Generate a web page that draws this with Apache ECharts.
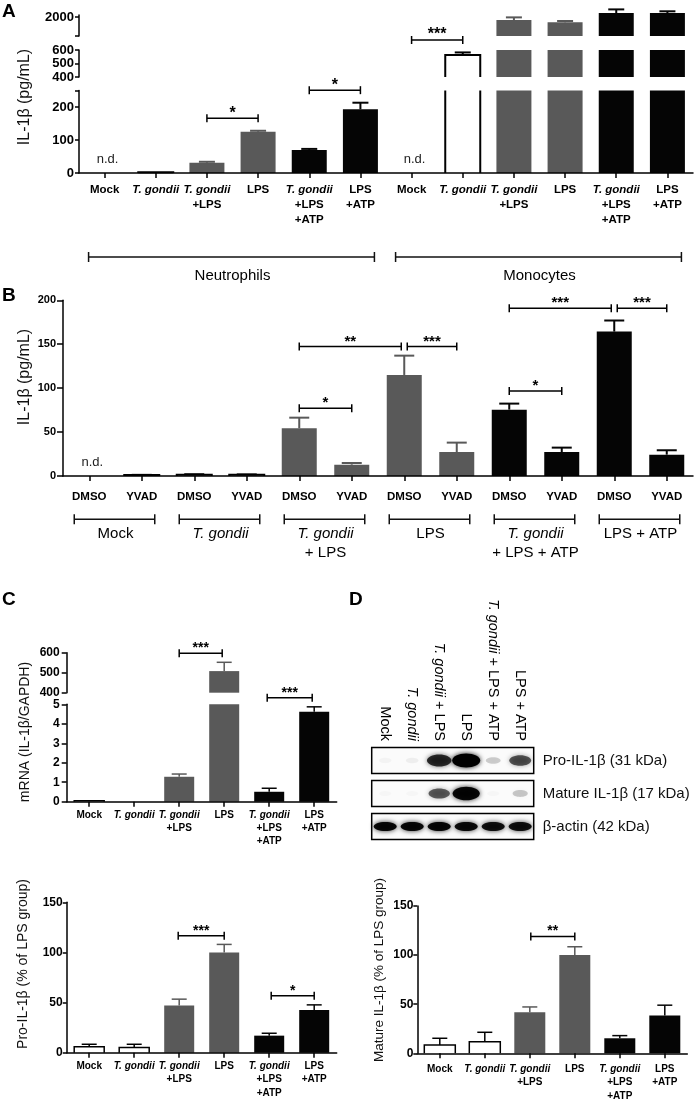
<!DOCTYPE html>
<html><head><meta charset="utf-8">
<script src="https://cdn.jsdelivr.net/npm/echarts@6/dist/echarts.min.js"></script>
<style>html,body{margin:0;padding:0;background:#fff}#c{width:699px;height:1100px}</style>
</head><body><div id="c"></div>
<script>
// ---------------- DATA ----------------
// Panel A
const catsA = ['Mock','T. gondii','T. gondii\n+LPS','LPS','T. gondii\n+LPS\n+ATP','LPS\n+ATP',
               'Mock','T. gondii','T. gondii\n+LPS','LPS','T. gondii\n+LPS\n+ATP','LPS\n+ATP'];
const valuesA = [0, 2, 31, 125, 70, 193, 0, 563, 1920, 1860, 2105, 2105];
const errorsA = [0, 0, 3, 3, 3, 20, 0, 19, 70, 35, 95, 45];
const fillA   = ['white','white','grey','grey','black','black','white','white','grey','grey','black','black'];
const groupsA = ['Neutrophils','Monocytes'];
const groupSpanA = [[0,5],[6,11]];
const ticksA_top = [1500, 2000], labelsA_top = [2000];
const ticksA_mid = [400, 500, 600], labelsA_mid = [400, 500, 600];
const ticksA_bot = [0, 100, 200, 250], labelsA_bot = [0, 100, 200];
const sigA_bot = [[2,3,166,'*',0,0],[4,5,251,'*',0,0]];
const sigA_mid = [[6,7,674,'***',0,0]];
const ndA = [0, 6];

// Panel B
const catsB = ['DMSO','YVAD','DMSO','YVAD','DMSO','YVAD','DMSO','YVAD','DMSO','YVAD','DMSO','YVAD'];
const valuesB = [0, 1, 1.5, 1.5, 54.3, 12.9, 115, 27.3, 75.5, 27.3, 164.4, 24.3];
const errorsB = [0, 0.3, 0.5, 0.3, 12.1, 1.9, 22, 10.7, 6.9, 5, 12.6, 5];
const fillB   = ['white','white','white','white','grey','grey','grey','grey','black','black','black','black'];
const groupsB = ['Mock','T. gondii','T. gondii\n+ LPS','LPS','T. gondii\n+ LPS + ATP','LPS + ATP'];
const groupSpanB = [[0,1],[2,3],[4,5],[6,7],[8,9],[10,11]];
const ticksB = [0, 50, 100, 150, 200];
const sigB = [[4,5,77,'*',0,0],[4,6,147.3,'**',0,-3],[6,7,147.3,'***',3,0],
              [8,9,96.8,'*',0,0],[8,10,191,'***',0,-3],[10,11,191,'***',3,0]];
const ndB = [0];

// Panel C (mRNA)
const catsC = ['Mock','T. gondii','T. gondii\n+LPS','LPS','T. gondii\n+LPS\n+ATP','LPS\n+ATP'];
const valuesC = [0.05, 0, 1.28, 508, 0.51, 4.62];
const errorsC = [0, 0, 0.14, 44, 0.18, 0.25];
const fillC   = ['white','white','grey','grey','black','black'];
const ticksC_top = [400, 500, 600];
const ticksC_bot = [0, 1, 2, 3, 4, 5];
const sigC_top = [[2,3,597,'***',0,-2]];
const sigC_bot = [[4,5,5.33,'***',-2,-2]];

// Pro-IL-1β densitometry
const valuesP = [6, 5.3, 47, 100, 17, 42.7];
const errorsP = [2.4, 3.1, 6.4, 8, 2.4, 5];
const sigP = [[2,3,116.6,'***',-1,0],[4,5,56.9,'*',2,0]];
// Mature IL-1β densitometry
const valuesM = [8.5, 11.8, 41.8, 100, 15.3, 38.4];
const errorsM = [6.8, 9.6, 5.4, 8.5, 2.7, 10.6];
const sigM = [[2,3,119,'**',1,0]];
const ticksPM = [0, 50, 100, 150];

// Western blot (D)
const lanesD = ['Mock','T. gondii','T. gondii + LPS','LPS','T. gondii + LPS + ATP','LPS + ATP'];
const rowsD = ['Pro-IL-1β (31 kDa)','Mature IL-1β (17 kDa)','β-actin (42 kDa)'];
const bandPro    = [0.03, 0.05, 0.78, 1.0, 0.18, 0.62];
const bandMature = [0.02, 0.02, 0.58, 0.95, 0.02, 0.2];
const bandActin  = [0.95, 0.95, 0.95, 0.93, 0.9, 0.9];

// ---------------- LAYOUT / STYLE ----------------
const FONT = '"Liberation Sans", Arial, Helvetica, sans-serif';
const COL = {white:'#ffffff', grey:'#595959', black:'#050505'};
const GRIDS = [
  [79, 15.1, 614, 20.9],     // 0 A top
  [79, 50, 614, 27],         // 1 A mid
  [79, 90.5, 614, 82.5],     // 2 A bottom
  [63, 300.3, 630, 175.7],   // 3 B
  [66.7, 652.7, 270, 40],    // 4 C top
  [66.7, 704.3, 270, 97.4],  // 5 C bottom
  [371.7, 744, 162, 99],     // 6 blot
  [66.7, 902.3, 270, 150.4], // 7 Pro
  [417.3, 906, 270, 147.3]   // 8 Mature
];

function richFmt(v){
  return v.split('\n').map(l => l.indexOf('T. gondii') >= 0 ? l.replace('T. gondii','{i|T. gondii}') : l).join('\n');
}
function line(x1,y1,x2,y2,c,w){ return {type:'line', shape:{x1,y1,x2,y2}, style:{stroke:c, lineWidth:w}}; }

function catAxis(gi, data, o){
  o = o || {};
  return {
    type:'category', gridIndex:gi, data:data, position:o.position || 'bottom', z:5, show: o.show !== false,
    offset:0,
    axisLine:{show: o.line !== false, lineStyle:{color:'#000', width:1.5}},
    axisTick:{show: o.tick !== false, alignWithLabel:true, length:5, lineStyle:{color:'#000', width:1.5}},
    axisLabel:{show: o.label !== false, interval:0, hideOverlap:false, margin:o.margin || 8, rotate:o.rotate || 0,
      color:'#000', fontFamily:FONT, fontSize:o.fs || 12, fontWeight:o.fw || 'bold', lineHeight:o.lh || 14,
      verticalAlign: o.rotate ? undefined : (o.position === 'top' ? 'bottom' : 'top'),
      formatter: richFmt,
      rich:{i:{fontStyle:'italic', fontWeight:o.fw || 'bold', fontSize:o.fs || 12, fontFamily:FONT, color:'#000', lineHeight:o.lh || 14}}},
    splitLine:{show:false}
  };
}
function valAxis(gi, min, max, ticks, labels, o){
  o = o || {};
  return {
    type:'value', gridIndex:gi, min:min, max:max, interval:o.interval, position:'left', z:5,
    axisLine:{show:true, lineStyle:{color:'#000', width:1.5}},
    axisTick:{show:true, length:o.tl || 5, customValues:ticks, lineStyle:{color:'#000', width:1.5}},
    axisLabel:{show:true, customValues:labels, margin:o.margin || 6, color:'#000', fontFamily:FONT,
      fontSize:o.fs || 12, fontWeight:'bold', formatter: v => String(v)},
    splitLine:{show:false}
  };
}

function barSeries(gi, seg, values, errors, fills, barW, capW, lw){
  return {
    type:'custom', xAxisIndex:gi, yAxisIndex:gi, silent:true, z:2, clip:false,
    encode:{x:0, y:1},
    data: values.map((v,i)=>[i, v, errors[i]]),
    renderItem(params, api){
      const i = api.value(0), v = api.value(1), e = api.value(2);
      const kind = fills[i];
      if (!(v > seg.min)) return null;
      const capped = !seg.overflow && v > seg.max;
      const hi = capped ? seg.max : v;
      const p0 = api.coord([i, seg.min]), p1 = api.coord([i, hi]);
      const cx = p0[0], x0 = cx - barW/2, x1 = cx + barW/2, yb = p0[1], yt = p1[1];
      const stroke = kind === 'white' ? '#000' : COL[kind];
      const ch = [{type:'rect', shape:{x:x0, y:yt, width:barW, height:yb-yt}, style:{fill:COL[kind]}}];
      if (kind === 'white'){
        if (!capped) ch.push({type:'polyline', shape:{points:[[x0,yb],[x0,yt],[x1,yt],[x1,yb]]}, style:{fill:'none', stroke:'#000', lineWidth:lw}});
        else { ch.push(line(x0,yb,x0,yt,'#000',lw)); ch.push(line(x1,yb,x1,yt,'#000',lw)); }
      }
      if (!capped && e > 0){
        const pe = api.coord([i, v+e]);
        ch.push(line(cx, yt, cx, pe[1], stroke, lw));
        ch.push(line(cx-capW/2, pe[1], cx+capW/2, pe[1], stroke, lw));
      }
      return {type:'group', children:ch};
    }
  };
}

function sigSeries(gi, list, fs){
  return {
    type:'custom', xAxisIndex:gi, yAxisIndex:gi, silent:true, z:3, clip:false,
    encode:{x:[0,1], y:2},
    data: list.map(d=>[d[0], d[1], d[2]]),
    renderItem(params, api){
      const d = list[params.dataIndex];
      const a = api.coord([d[0], d[2]]), b = api.coord([d[1], d[2]]);
      const x1 = a[0] + d[4], x2 = b[0] + d[5], y = a[1];
      return {type:'group', children:[
        line(x1,y,x2,y,'#000',1.5), line(x1,y-4,x1,y+4,'#000',1.5), line(x2,y-4,x2,y+4,'#000',1.5),
        {type:'text', style:{text:d[3], x:(x1+x2)/2, y:y-5, align:'center', verticalAlign:'middle',
          font:'bold ' + (fs||15) + 'px ' + FONT, fill:'#000'}}
      ]};
    }
  };
}

function groupBracketSeries(gi, spans, yOff, offL, offR){
  return {
    type:'custom', xAxisIndex:gi, yAxisIndex:gi, silent:true, z:3, clip:false,
    encode:{x:[0,1], y:2},
    data: spans.map(s=>[s[0], s[1], 0]),
    renderItem(params, api){
      const a = api.coord([api.value(0), 0]), b = api.coord([api.value(1), 0]);
      const y = a[1] + yOff, x1 = a[0] + offL, x2 = b[0] + offR;
      return {type:'group', children:[line(x1,y,x2,y,'#111',1.5), line(x1,y-5,x1,y+5,'#111',1.5), line(x2,y-5,x2,y+5,'#111',1.5)]};
    }
  };
}

function ndSeries(gi, idx){
  return {
    type:'custom', xAxisIndex:gi, yAxisIndex:gi, silent:true, z:3, clip:false,
    encode:{x:0, y:1},
    data: idx.map(i=>[i, 0]),
    renderItem(params, api){
      const p = api.coord([api.value(0), 0]);
      return {type:'text', style:{text:'n.d.', x:p[0]+3, y:p[1]-14, align:'center', verticalAlign:'middle', font:'13px ' + FONT, fill:'#222'}};
    }
  };
}

// blot
const bandRows = [bandPro, bandMature, bandActin];
const bandData = [];
bandRows.forEach((r,k)=>r.forEach((a,l)=>bandData.push([l, k, a])));

const segA0 = {min:1500, max:2050, overflow:true}, segA1 = {min:400, max:600}, segA2 = {min:0, max:250};

const option = {
  animation:false,
  backgroundColor:'#ffffff',
  textStyle:{fontFamily:FONT},
  grid: GRIDS.map(g=>({left:g[0], top:g[1], width:g[2], height:g[3], containLabel:false, outerBoundsMode:'none', show:false})),
  xAxis: [
    catAxis(0, catsA, {show:false}),
    catAxis(1, catsA, {show:false}),
    catAxis(2, catsA, {margin:9.5, lh:15, fs:11.5}),
    catAxis(3, catsB, {margin:14, lh:14, fs:11.5}),
    catAxis(4, catsC, {show:false}),
    catAxis(5, catsC, {margin:6.8, lh:13, fs:10}),
    catAxis(6, lanesD, {position:'top', line:false, tick:false, rotate:90, margin:3, fs:14.5, fw:'normal'}),
    catAxis(7, catsC, {margin:6.5, lh:13.5, fs:10}),
    catAxis(8, catsC, {margin:9, lh:13.5, fs:10}),
    catAxis(2, groupsA, {line:false, tick:false, margin:94, lh:18, fs:15, fw:'normal'}),
    catAxis(3, groupsB, {line:false, tick:false, margin:48.5, lh:19, fs:15, fw:'normal'})
  ],
  yAxis: [
    valAxis(0, 1500, 2050, ticksA_top, labelsA_top, {fs:13, margin:5, tl:4, interval:500}),
    valAxis(1, 400, 600, ticksA_mid, labelsA_mid, {fs:13, margin:5, tl:4, interval:100}),
    valAxis(2, 0, 250, ticksA_bot, labelsA_bot, {fs:13, margin:5, tl:4, interval:100}),
    valAxis(3, 0, 200, ticksB, ticksB, {fs:11, margin:7, tl:6, interval:50}),
    valAxis(4, 400, 600, ticksC_top, ticksC_top, {fs:12, margin:7, tl:5, interval:100}),
    valAxis(5, 0, 5, ticksC_bot, ticksC_bot, {fs:12, margin:7, tl:5, interval:1}),
    {type:'category', gridIndex:6, data:rowsD, inverse:true, position:'right',
      axisLine:{show:false}, axisTick:{show:false}, splitLine:{show:false},
      axisLabel:{margin:9, color:'#111', fontFamily:FONT, fontSize:15, align:'left'}},
    valAxis(7, 0, 150, ticksPM, ticksPM, {fs:12, margin:4, tl:4, interval:50}),
    valAxis(8, 0, 150, ticksPM, ticksPM, {fs:12, margin:4, tl:4, interval:50})
  ],
  series: [
    barSeries(0, segA0, valuesA, errorsA, fillA, 35, 16, 2),
    barSeries(1, segA1, valuesA, errorsA, fillA, 35, 16, 2),
    barSeries(2, segA2, valuesA, errorsA, fillA, 35, 16, 2),
    barSeries(3, {min:0, max:200}, valuesB, errorsB, fillB, 35, 20, 2),
    barSeries(4, {min:400, max:600}, valuesC, errorsC, fillC, 30, 15, 1.5),
    barSeries(5, {min:0, max:5}, valuesC, errorsC, fillC, 30, 15, 1.5),
    barSeries(7, {min:0, max:150}, valuesP, errorsP, fillC, 30, 15, 1.5),
    barSeries(8, {min:0, max:150}, valuesM, errorsM, fillC, 31, 15, 1.5),
    sigSeries(2, sigA_bot, 16), sigSeries(1, sigA_mid, 16), sigSeries(3, sigB, 15),
    sigSeries(4, sigC_top, 14), sigSeries(5, sigC_bot, 14), sigSeries(7, sigP, 14), sigSeries(8, sigM, 14),
    groupBracketSeries(2, groupSpanA, 84, -16, 14),
    groupBracketSeries(3, groupSpanB, 43.3, -15, 13),
    ndSeries(2, ndA), ndSeries(3, ndB),
    { // blot boxes
      type:'custom', xAxisIndex:6, yAxisIndex:6, silent:true, z:2, clip:false,
      encode:{x:0, y:1},
      data: rowsD.map((r,k)=>[0, k]),
      renderItem(params, api){
        const k = api.value(1);
        const p0 = api.coord([0,k]), p5 = api.coord([5,k]), s = api.size([1,1]);
        const x = p0[0]-s[0]/2, w = p5[0]+s[0]/2-x, h = 26;
        return {type:'rect', shape:{x:x, y:p0[1]-h/2, width:w, height:h}, style:{fill:'#fbfbfb', stroke:'#000', lineWidth:1.5}};
      }
    },
    { // blot bands
      type:'custom', xAxisIndex:6, yAxisIndex:6, silent:true, z:3, clip:false,
      encode:{x:0, y:1},
      data: bandData,
      renderItem(params, api){
        const l = api.value(0), k = api.value(1), a = api.value(2);
        const c = api.coord([l, k]);
        let rx, ry;
        if (k === 2){ rx = 11.5; ry = 4.5; }
        else { rx = 6 + 8*a; ry = 2.5 + 4.5*a; }
        return {type:'ellipse', shape:{cx:c[0], cy:c[1], rx:rx, ry:ry},
          style:{fill:'rgba(0,0,0,' + a + ')', shadowBlur:5, shadowColor:'rgba(0,0,0,' + (a*0.9) + ')'}};
      }
    }
  ],
  graphic: [
    {type:'text', x:2, y:12, style:{text:'A', font:'bold 19px ' + FONT, fill:'#000', align:'left', verticalAlign:'middle'}},
    {type:'text', x:2, y:296, style:{text:'B', font:'bold 19px ' + FONT, fill:'#000', align:'left', verticalAlign:'middle'}},
    {type:'text', x:2, y:600, style:{text:'C', font:'bold 19px ' + FONT, fill:'#000', align:'left', verticalAlign:'middle'}},
    {type:'text', x:349, y:600, style:{text:'D', font:'bold 19px ' + FONT, fill:'#000', align:'left', verticalAlign:'middle'}},
    {type:'text', x:25, y:97, rotation:Math.PI/2, style:{text:'IL-1β (pg/mL)', font:'16px ' + FONT, fill:'#111', align:'center', verticalAlign:'middle'}},
    {type:'text', x:25, y:377, rotation:Math.PI/2, style:{text:'IL-1β (pg/mL)', font:'16px ' + FONT, fill:'#111', align:'center', verticalAlign:'middle'}},
    {type:'text', x:25, y:732, rotation:Math.PI/2, style:{text:'mRNA (IL-1β/GAPDH)', font:'14px ' + FONT, fill:'#111', align:'center', verticalAlign:'middle'}},
    {type:'text', x:23, y:964, rotation:Math.PI/2, style:{text:'Pro-IL-1β (% of LPS group)', font:'14px ' + FONT, fill:'#111', align:'center', verticalAlign:'middle'}},
    {type:'text', x:379, y:970, rotation:Math.PI/2, style:{text:'Mature IL-1β (% of LPS group)', font:'13.5px ' + FONT, fill:'#111', align:'center', verticalAlign:'middle'}}
  ]
};

const chart = echarts.init(document.getElementById('c'), null, {renderer:'canvas'});
chart.setOption(option);
</script>
</body></html>
